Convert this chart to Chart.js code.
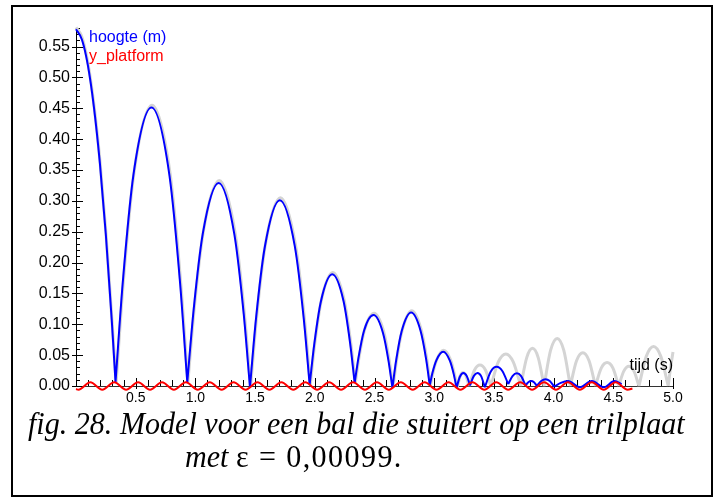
<!DOCTYPE html>
<html>
<head>
<meta charset="utf-8">
<script src="https://cdn.jsdelivr.net/npm/chart.js@4.4.1/dist/chart.umd.min.js"></script>
<style>
  html, body { margin: 0; padding: 0; background: #fff; }
  body { width: 717px; height: 502px; position: relative; overflow: hidden; }
  #frame { position: absolute; left: 11px; top: 5px; width: 698px; height: 488px; border: 2px solid #000; }
  #chart { position: absolute; left: 0; top: 0; }
  .caption { position: absolute; font-family: 'Liberation Serif', 'Times New Roman', serif; font-size: 32px; line-height: 33px; color: #000; white-space: nowrap; transform: scaleX(0.94); transform-origin: 0 0; }
</style>
</head>
<body>
<div id="frame"></div>
<canvas id="chart" width="717" height="420"></canvas>
<div class="caption" style="left:28px; top:407px;"><i>fig. 28. Model voor een bal die stuitert op een trilplaat</i></div>
<div class="caption" style="left:185px; top:440px;"><i>met</i> <span style="letter-spacing:1.5px">ε = 0,00099.</span></div>
<script>
// hoogte van de bal (m) tegen tijd (s); null = onderbreking bij een stuit
const tHoogte = [
  0, 0.05, 0.1, 0.15, 0.2, 0.25, 0.3, 0.331, 0.331,
  0.331, 0.391, 0.481, 0.632, 0.782, 0.872, 0.932, 0.932,
  0.932, 0.985, 1.063, 1.195, 1.326, 1.405, 1.457, 1.457,
  1.457, 1.507, 1.582, 1.707, 1.832, 1.907, 1.957, 1.957,
  1.957, 1.995, 2.051, 2.146, 2.240, 2.296, 2.334, 2.334,
  2.334, 2.366, 2.413, 2.492, 2.571, 2.618, 2.650, 2.650,
  2.650, 2.681, 2.728, 2.807, 2.885, 2.932, 2.963, 2.963,
  2.963, 2.985, 3.019, 3.075, 3.131, 3.165, 3.187, 3.187,
  3.187, 3.215, 3.245, 3.273, 3.300, 3.300,
  3.300, 3.331, 3.362, 3.393, 3.424, 3.424,
  3.424, 3.473, 3.523, 3.572, 3.620, 3.620,
  3.620, 3.656, 3.692, 3.728, 3.765, 3.765,
  3.765, 3.788, 3.812, 3.836, 3.860, 3.860,
  3.860, 3.896, 3.932, 3.968, 4.005, 4.005,
  4.005, 4.06, 4.12, 4.22, 4.32, 4.42, 4.51, 4.57
];
const hoogte = [
  0.578, 0.561, 0.519, 0.452, 0.361, 0.245, 0.105, 0.006, null,
  0.006, 0.166, 0.342, 0.451, 0.342, 0.166, 0.006, null,
  0.006, 0.123, 0.248, 0.329, 0.246, 0.116, -0.002, null,
  -0.002, 0.108, 0.226, 0.301, 0.227, 0.110, 0.002, null,
  0.002, 0.067, 0.137, 0.181, 0.138, 0.069, 0.005, null,
  0.005, 0.046, 0.090, 0.115, 0.086, 0.040, -0.003, null,
  -0.003, 0.041, 0.089, 0.119, 0.090, 0.044, 0.001, null,
  0.001, 0.021, 0.042, 0.0555, 0.041, 0.018, -0.003, null,
  -0.003, 0.015, 0.021, 0.016, 0.001, null,
  0.001, 0.016, 0.021, 0.016, -0.002, null,
  -0.002, 0.023, 0.031, 0.024, 0.003, null,
  0.003, 0.016, 0.0205, 0.016, 0.001, null,
  0.001, 0.006, 0.008, 0.006, 0.000, null,
  0.000, 0.008, 0.011, 0.008, -0.001, null,
  -0.001, 0.005, 0.008, -0.002, 0.008, -0.002, 0.008, 0.003
];

// grijze vergelijkingskromme
const tGrijs = [
  0, 0.05, 0.1, 0.15, 0.2, 0.25, 0.3, 0.336, 0.336,
  0.336, 0.396, 0.486, 0.637, 0.787, 0.877, 0.937, 0.937,
  0.937, 0.990, 1.068, 1.200, 1.331, 1.410, 1.462, 1.462,
  1.462, 1.512, 1.587, 1.712, 1.837, 1.912, 1.962, 1.962,
  1.962, 2.000, 2.056, 2.151, 2.245, 2.301, 2.339, 2.339,
  2.339, 2.371, 2.418, 2.497, 2.576, 2.623, 2.655, 2.655,
  2.655, 2.686, 2.733, 2.812, 2.890, 2.937, 2.968, 2.968,
  2.968, 2.990, 3.024, 3.080, 3.136, 3.170, 3.192, 3.192,
  3.192, 3.217, 3.242, 3.267, 3.292, 3.292,
  3.292, 3.338, 3.383, 3.429, 3.475, 3.475,
  3.475, 3.537, 3.600, 3.662, 3.725, 3.725,
  3.725, 3.775, 3.823, 3.871, 3.920, 3.920,
  3.920, 3.975, 4.030, 4.085, 4.140, 4.140,
  4.140, 4.192, 4.245, 4.297, 4.350, 4.350,
  4.350, 4.399, 4.448, 4.497, 4.545, 4.545,
  4.545, 4.588, 4.630, 4.673, 4.715, 4.715,
  4.715, 4.776, 4.837, 4.898, 4.960, 4.960,
  4.960, 4.980, 5.000
];
const grijs = [
  0.581, 0.565, 0.523, 0.456, 0.366, 0.250, 0.110, 0.005, null,
  0.005, 0.168, 0.346, 0.455, 0.346, 0.168, 0.005, null,
  0.005, 0.125, 0.252, 0.333, 0.250, 0.118, -0.002, null,
  -0.002, 0.110, 0.230, 0.305, 0.230, 0.112, 0.002, null,
  0.002, 0.069, 0.140, 0.184, 0.140, 0.070, 0.005, null,
  0.005, 0.047, 0.092, 0.118, 0.089, 0.042, -0.003, null,
  -0.003, 0.043, 0.091, 0.122, 0.092, 0.045, 0.001, null,
  0.001, 0.022, 0.044, 0.058, 0.043, 0.019, -0.003, null,
  -0.003, 0.016, 0.022, 0.016, 0.000, null,
  0.000, 0.026, 0.034, 0.026, 0.000, null,
  0.000, 0.039, 0.052, 0.039, 0.000, null,
  0.000, 0.046, 0.061, 0.046, 0.000, null,
  0.000, 0.058, 0.077, 0.058, 0.000, null,
  0.000, 0.041, 0.054, 0.041, 0.000, null,
  0.000, 0.029, 0.038, 0.029, 0.000, null,
  0.000, 0.024, 0.032, 0.024, 0.000, null,
  0.000, 0.048, 0.064, 0.048, 0.000, null,
  0.000, 0.030, 0.055
];

// trillende plaat: toppen en dalen
const tPlatform = [
  0, 0.02, 0.12, 0.22, 0.32, 0.42, 0.52, 0.62, 0.72, 0.82, 0.92,
  1.02, 1.12, 1.22, 1.32, 1.42, 1.52, 1.62, 1.72, 1.82, 1.92,
  2.02, 2.12, 2.22, 2.32, 2.42, 2.52, 2.62, 2.72, 2.82, 2.92,
  3.02, 3.12, 3.22, 3.32, 3.42, 3.52, 3.62, 3.72, 3.82, 3.92,
  4.02, 4.12, 4.22, 4.32, 4.42, 4.52, 4.62, 4.66
];
const yPlatform = [
  -0.005, -0.006, 0.006, -0.006, 0.006, -0.006, 0.006, -0.006, 0.006, -0.006, 0.006,
  -0.006, 0.006, -0.006, 0.006, -0.006, 0.006, -0.006, 0.006, -0.006, 0.006,
  -0.006, 0.006, -0.006, 0.006, -0.006, 0.006, -0.006, 0.006, -0.006, 0.006,
  -0.006, 0.006, -0.006, 0.006, -0.006, 0.006, -0.006, 0.006, -0.006, 0.006,
  -0.006, 0.006, -0.006, 0.006, -0.006, 0.006, -0.006, -0.004
];

const xLabels = ['0.5', '1.0', '1.5', '2.0', '2.5', '3.0', '3.5', '4.0', '4.5', '5.0'];
const yLabels = ['0.00', '0.05', '0.10', '0.15', '0.20', '0.25', '0.30', '0.35', '0.40', '0.45', '0.50', '0.55'];
const xTitle = 'tijd (s)';

function toPoints(ts, vs) {
  return ts.map((t, i) => ({ x: t, y: vs[i] }));
}

const sans = "'Liberation Sans', Arial, sans-serif";

// kleine en grote maatstreepjes binnen het grafiekvlak
const tickMarks = {
  id: 'tickMarks',
  beforeDatasetsDraw(chart) {
    const { ctx, chartArea, scales } = chart;
    ctx.save();
    ctx.strokeStyle = '#000';
    ctx.lineWidth = 1;
    ctx.beginPath();
    scales.y.ticks.forEach(tk => {
      const py = Math.round(scales.y.getPixelForValue(tk.value)) + 0.5;
      const major = tk.label !== '';
      ctx.moveTo(chartArea.left - (major ? 4 : 0), py);
      ctx.lineTo(chartArea.left + (major ? 7 : 4), py);
    });
    scales.x.ticks.forEach(tk => {
      const px = Math.round(scales.x.getPixelForValue(tk.value)) + 0.5;
      const major = tk.label !== '';
      ctx.moveTo(px, chartArea.bottom + (major ? 3 : 0));
      ctx.lineTo(px, chartArea.bottom - (major ? 8 : 6));
    });
    ctx.stroke();
    ctx.restore();
  },
  afterDraw(chart) {
    const { ctx, chartArea } = chart;
    ctx.save();
    ctx.font = '16px ' + sans;
    ctx.textBaseline = 'middle';
    ctx.textAlign = 'left';
    chart.data.datasets.filter(ds => ds.label).forEach((ds, i) => {
      ctx.fillStyle = ds.borderColor;
      ctx.fillText(ds.label, chartArea.left + 13, chartArea.top + 10 + i * 19);
    });
    ctx.fillStyle = '#000';
    ctx.textAlign = 'right';
    ctx.fillText(xTitle, chartArea.right, chartArea.bottom - 20);
    ctx.restore();
  }
};

const clip = { left: 4, top: 6, right: 4, bottom: 10 };

new Chart(document.getElementById('chart'), {
  type: 'line',
  data: {
    datasets: [
      {
        label: 'hoogte (m)',
        data: toPoints(tHoogte, hoogte),
        borderColor: '#0000ff',
        borderWidth: 2,
        order: 1,
        clip: clip
      },
      {
        label: 'y_platform',
        data: toPoints(tPlatform, yPlatform),
        borderColor: '#ff0000',
        borderWidth: 2,
        order: 0,
        clip: clip
      },
      {
        label: '',
        data: toPoints(tGrijs, grijs),
        borderColor: '#d4d4d4',
        borderWidth: 3,
        order: 2,
        clip: clip
      }
    ]
  },
  options: {
    responsive: false,
    animation: false,
    devicePixelRatio: 1,
    layout: { padding: { left: 0, right: 44, top: 28, bottom: 4 } },
    elements: {
      point: { radius: 0 },
      line: { cubicInterpolationMode: 'monotone', capBezierPoints: false }
    },
    plugins: {
      legend: { display: false },
      tooltip: { enabled: false }
    },
    scales: {
      x: {
        type: 'linear',
        min: 0,
        max: 5,
        afterFit: s => { s.height = 30; },
        grid: { display: false, drawTicks: false },
        border: { display: true, color: '#333', width: 1 },
        ticks: {
          stepSize: 0.1,
          autoSkip: false,
          maxRotation: 0,
          padding: 4,
          color: '#000',
          font: { family: sans, size: 14 },
          callback: v => xLabels.includes(v.toFixed(1)) ? v.toFixed(1) : ''
        }
      },
      y: {
        type: 'linear',
        min: 0,
        max: 0.58,
        afterFit: s => { s.width = 76; },
        grid: { display: false, drawTicks: false },
        border: { display: true, color: '#000', width: 1 },
        ticks: {
          stepSize: 0.01,
          autoSkip: false,
          padding: 6,
          color: '#000',
          font: { family: sans, size: 16 },
          callback: v => yLabels.includes(v.toFixed(2)) ? v.toFixed(2) : ''
        }
      }
    }
  },
  plugins: [tickMarks]
});
</script>
</body>
</html>
